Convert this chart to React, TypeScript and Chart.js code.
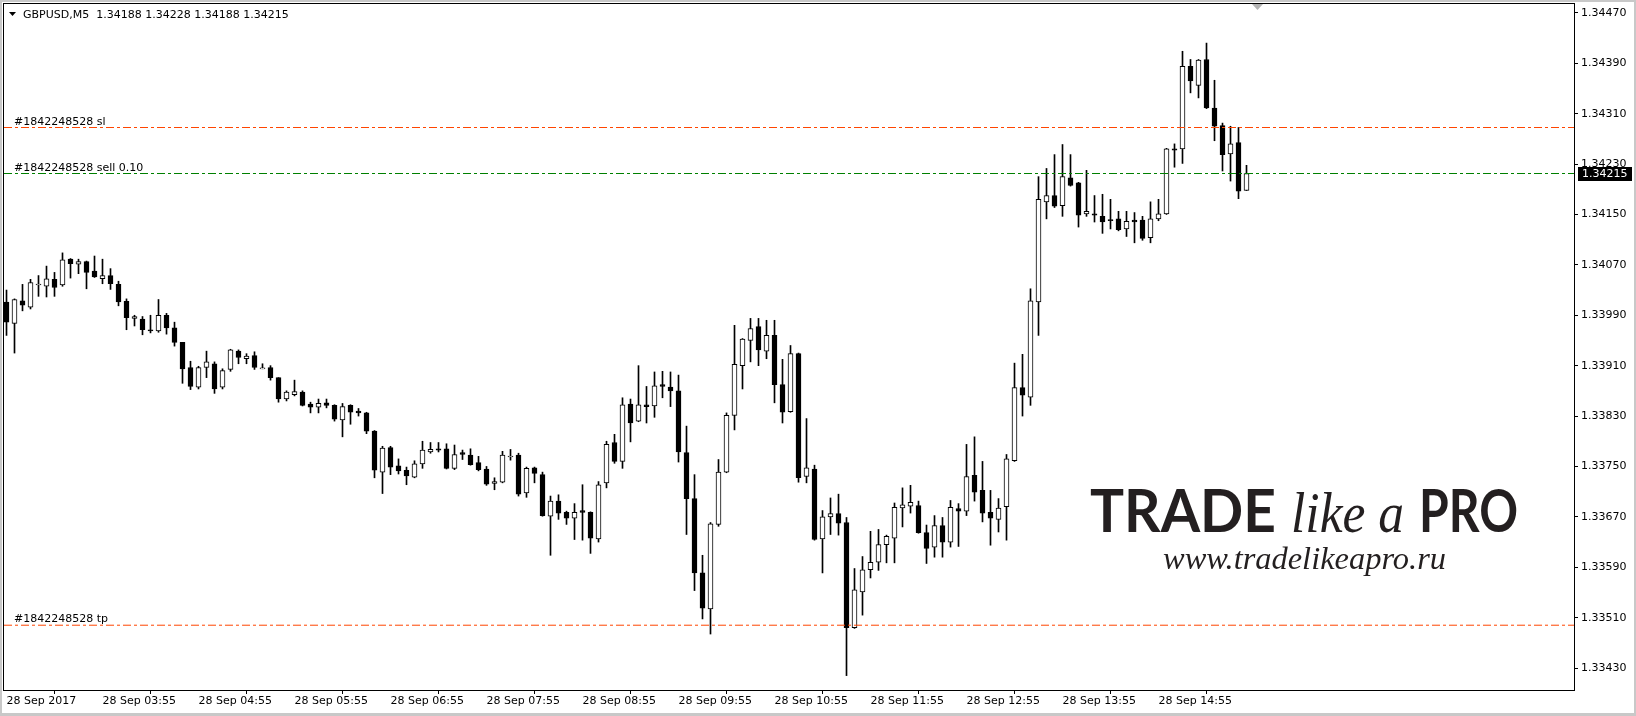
import React, { useEffect, useRef } from "react";
import { Chart, registerables } from "chart.js";

Chart.register(...registerables);

// ---- DATA (GBPUSD, M5, 28 Sep 2017, 02:55 .. 15:50) ----
const opens = [
  1.34011, 1.33977, 1.34013, 1.34003, 1.34038, 1.34036, 1.34047, 1.34038, 1.34079, 1.34071,
  1.34075, 1.3406, 1.34048, 1.34053, 1.34039, 1.34012, 1.33985, 1.33984, 1.33967, 1.33965,
  1.3399, 1.3397, 1.33947, 1.33907, 1.33876, 1.33907, 1.33913, 1.33876, 1.33904, 1.33933,
  1.33921, 1.33926, 1.33905, 1.33907, 1.33891, 1.33857, 1.33864, 1.33868, 1.33849, 1.33844,
  1.33851, 1.33847, 1.33824, 1.33847, 1.33838, 1.33835, 1.33806, 1.33741, 1.3378, 1.33751,
  1.33744, 1.33733, 1.33754, 1.33773, 1.33778, 1.33778, 1.33747, 1.33772, 1.33768, 1.33756,
  1.33746, 1.33723, 1.33725, 1.33765, 1.33768, 1.33708, 1.33748, 1.33737, 1.33671, 1.33695,
  1.33677, 1.33668, 1.3368, 1.33677, 1.33635, 1.33724, 1.33788, 1.33758, 1.33849, 1.33822,
  1.33848, 1.33846, 1.3388, 1.33876, 1.3387, 1.33772, 1.33699, 1.33581, 1.33524, 1.33658,
  1.33741, 1.33831, 1.3391, 1.3395, 1.33972, 1.33933, 1.33958, 1.3388, 1.33837, 1.33929,
  1.33734, 1.33746, 1.33635, 1.3367, 1.33675, 1.33661, 1.33494, 1.33551, 1.33586, 1.33598,
  1.33626, 1.33636, 1.33684, 1.33687, 1.33688, 1.33645, 1.33622, 1.33656, 1.3363, 1.33683,
  1.33679, 1.33736, 1.33712, 1.33677, 1.33666, 1.33686, 1.33759, 1.33875, 1.3386, 1.34011,
  1.3417, 1.3418, 1.34164, 1.34208, 1.342, 1.34151, 1.34151, 1.34147, 1.34142, 1.34143,
  1.34127, 1.34141, 1.34141, 1.34113, 1.34143, 1.34151, 1.34254, 1.34254, 1.34385, 1.34355,
  1.34396, 1.34319, 1.34291, 1.34246, 1.34264, 1.34188,
];
const highs = [
  1.3403, 1.34016, 1.34039, 1.34047, 1.34053, 1.34068, 1.34058, 1.34089, 1.3408, 1.34079,
  1.34076, 1.34084, 1.34079, 1.34064, 1.34044, 1.34016, 1.3399, 1.33988, 1.3399, 1.34015,
  1.33993, 1.33979, 1.33947, 1.33917, 1.33909, 1.33933, 1.33916, 1.33905, 1.33936, 1.33935,
  1.33929, 1.33932, 1.33913, 1.3391, 1.33891, 1.3387, 1.33887, 1.3387, 1.33852, 1.33857,
  1.33857, 1.33848, 1.3385, 1.33848, 1.33842, 1.33836, 1.33807, 1.33782, 1.33782, 1.33762,
  1.33749, 1.33759, 1.3379, 1.33788, 1.33788, 1.33786, 1.33784, 1.33776, 1.33778, 1.33766,
  1.3375, 1.33732, 1.33774, 1.33777, 1.33771, 1.33749, 1.33749, 1.33741, 1.33703, 1.33705,
  1.33679, 1.33691, 1.33721, 1.33678, 1.33726, 1.3379, 1.33801, 1.33859, 1.33857, 1.3391,
  1.33877, 1.339, 1.33901, 1.339, 1.33895, 1.33814, 1.33737, 1.33609, 1.33661, 1.33761,
  1.33835, 1.33974, 1.33953, 1.33985, 1.33985, 1.33982, 1.33982, 1.3392, 1.33942, 1.3393,
  1.33826, 1.33752, 1.3368, 1.337, 1.33706, 1.33669, 1.33588, 1.33607, 1.33647, 1.3365,
  1.33641, 1.33692, 1.33716, 1.3372, 1.33695, 1.33657, 1.33672, 1.33669, 1.33696, 1.33691,
  1.33785, 1.33797, 1.33758, 1.33712, 1.33699, 1.33769, 1.33914, 1.33928, 1.34032, 1.3421,
  1.34223, 1.34245, 1.34261, 1.34245, 1.34201, 1.3422, 1.3418, 1.34182, 1.34174, 1.34155,
  1.34155, 1.34153, 1.34147, 1.3417, 1.34174, 1.34255, 1.34262, 1.34409, 1.34396, 1.34396,
  1.34422, 1.34363, 1.34295, 1.3429, 1.34288, 1.34228,
];
const lows = [
  1.33958, 1.3393, 1.33997, 1.34, 1.3402, 1.34019, 1.3402, 1.34036, 1.34049, 1.34056,
  1.34032, 1.3405, 1.3404, 1.34031, 1.34005, 1.33967, 1.33973, 1.33959, 1.33962, 1.33963,
  1.3396, 1.33941, 1.33882, 1.33872, 1.33873, 1.33891, 1.33866, 1.33873, 1.33901, 1.33913,
  1.33913, 1.33904, 1.33905, 1.33887, 1.33852, 1.33854, 1.33862, 1.33846, 1.33835, 1.33835,
  1.33843, 1.33822, 1.33797, 1.33817, 1.3383, 1.33802, 1.33732, 1.33707, 1.33737, 1.33738,
  1.33721, 1.33732, 1.33747, 1.33771, 1.33773, 1.33746, 1.33745, 1.33761, 1.33752, 1.33743,
  1.3372, 1.33713, 1.33724, 1.3376, 1.33703, 1.33701, 1.33724, 1.33671, 1.33609, 1.33666,
  1.33658, 1.33634, 1.33633, 1.33612, 1.3363, 1.33716, 1.33755, 1.33747, 1.33789, 1.33821,
  1.33819, 1.33828, 1.33859, 1.33845, 1.33757, 1.33642, 1.33553, 1.33508, 1.33484, 1.33655,
  1.3374, 1.33808, 1.33873, 1.33916, 1.3391, 1.33921, 1.33851, 1.33819, 1.33836, 1.33725,
  1.33724, 1.33633, 1.33581, 1.33642, 1.33641, 1.33418, 1.33493, 1.33514, 1.33573, 1.33585,
  1.33597, 1.33597, 1.33654, 1.33676, 1.33644, 1.33596, 1.33606, 1.33606, 1.33622, 1.33623,
  1.33672, 1.33695, 1.33662, 1.33625, 1.33646, 1.33633, 1.33758, 1.3383, 1.33847, 1.33958,
  1.34143, 1.34161, 1.34147, 1.34195, 1.3413, 1.34147, 1.34138, 1.3412, 1.34127, 1.34124,
  1.34115, 1.34105, 1.34109, 1.34105, 1.3414, 1.3415, 1.34225, 1.34231, 1.34343, 1.34335,
  1.34318, 1.34267, 1.34219, 1.34203, 1.34175, 1.34188,
];
const closes = [
  1.33979, 1.34015, 1.34006, 1.34042, 1.34039, 1.34048, 1.34034, 1.34078, 1.34072, 1.34075,
  1.34058, 1.34051, 1.34053, 1.3404, 1.34011, 1.33986, 1.33988, 1.33967, 1.33965, 1.3399,
  1.3397, 1.33947, 1.33905, 1.33877, 1.33907, 1.33916, 1.33873, 1.33902, 1.33935, 1.33923,
  1.33925, 1.33907, 1.33905, 1.33891, 1.33857, 1.33868, 1.33869, 1.33847, 1.33844, 1.3385,
  1.33847, 1.33825, 1.33845, 1.33836, 1.33835, 1.33806, 1.33744, 1.33779, 1.33749, 1.33743,
  1.33735, 1.33754, 1.33776, 1.33777, 1.33776, 1.33747, 1.33769, 1.33769, 1.33753, 1.33745,
  1.33722, 1.33726, 1.33768, 1.33766, 1.33706, 1.33747, 1.33739, 1.33672, 1.33695, 1.33676,
  1.33668, 1.33677, 1.33677, 1.33636, 1.33721, 1.33785, 1.33758, 1.33848, 1.33819, 1.33848,
  1.33845, 1.33878, 1.33877, 1.3387, 1.33773, 1.33699, 1.33581, 1.33525, 1.33659, 1.33741,
  1.33831, 1.33912, 1.33952, 1.33969, 1.33935, 1.33958, 1.3388, 1.33836, 1.33929, 1.33732,
  1.33748, 1.33634, 1.3367, 1.33675, 1.3366, 1.33494, 1.33554, 1.33586, 1.33598, 1.33626,
  1.33639, 1.33685, 1.33689, 1.33693, 1.33645, 1.3362, 1.33656, 1.3363, 1.33685, 1.33679,
  1.33734, 1.33709, 1.33676, 1.33668, 1.33684, 1.33762, 1.33875, 1.33863, 1.34013, 1.34174,
  1.3418, 1.34163, 1.3421, 1.34196, 1.34149, 1.34155, 1.34149, 1.34138, 1.3414, 1.34126,
  1.34139, 1.34138, 1.34112, 1.34143, 1.34151, 1.34254, 1.34252, 1.34385, 1.34362, 1.34395,
  1.34319, 1.3429, 1.34245, 1.34262, 1.34187, 1.34215,
];

const timeLabels = [
  "28 Sep 2017", "28 Sep 03:55", "28 Sep 04:55", "28 Sep 05:55", "28 Sep 06:55",
  "28 Sep 07:55", "28 Sep 08:55", "28 Sep 09:55", "28 Sep 10:55", "28 Sep 11:55",
  "28 Sep 12:55", "28 Sep 13:55", "28 Sep 14:55",
];
const barsPerLabel = 12;

const priceTicks = [
  1.3343, 1.3351, 1.3359, 1.3367, 1.3375, 1.3383, 1.3391,
  1.3399, 1.3407, 1.3415, 1.3423, 1.3431, 1.3439, 1.3447,
];

const symbolTitle = "GBPUSD,M5";
const orderLabels = ["#1842248528 sl", "#1842248528 sell 0.10", "#1842248528 tp"];
const orderPrices = [1.34288, 1.34215, 1.33498];
const bidPrice = 1.34215;
const brandWords = ["TRADE", "like a", "PRO"];
const siteUrl = "www.tradelikeapro.ru";

// ---- LAYOUT / STYLE ----
const W = 1636;
const H = 716;
const AREA_LEFT = 4;
const AREA_TOP = 4;
const AREA_RIGHT = 1574;
const AREA_BOTTOM = 690;
const PX_PER_BAR = 8;
const FIRST_BAR_X = 6.5;
const X_MIN = -(FIRST_BAR_X - AREA_LEFT) / PX_PER_BAR;
const X_MAX = X_MIN + (AREA_RIGHT - AREA_LEFT) / PX_PER_BAR;
const Y_MAX = 1.3448405;
const Y_MIN = 1.3339516;
const FONT = "DejaVu Sans";
const orderColors = ["#ff4500", "#008000", "#ff4500"];

function fmt(v: number) {
  return v.toFixed(5);
}

function drawFit(ctx: CanvasRenderingContext2D, text: string, x: number, y: number, width: number, font: string) {
  ctx.save();
  ctx.font = font;
  const m = ctx.measureText(text).width || 1;
  ctx.translate(x, y);
  ctx.scale(width / m, 1);
  ctx.fillText(text, 0, 0);
  ctx.restore();
}

const overlayPlugin = {
  id: "mtOverlay",
  beforeDatasetsDraw(chart: any) {
    const ctx: CanvasRenderingContext2D = chart.ctx;
    ctx.save();
    ctx.fillStyle = "#231f20";
    ctx.textAlign = "left";
    ctx.textBaseline = "alphabetic";
    drawFit(ctx, brandWords[0], 1090, 532, 186, "bold 60px Lato");
    drawFit(ctx, brandWords[1], 1291, 532, 113, 'italic 56px "Liberation Serif"');
    drawFit(ctx, brandWords[2], 1419, 532, 99, "bold 60px Lato");
    drawFit(ctx, siteUrl, 1163, 569, 283, 'italic 31px "Liberation Serif"');
    ctx.restore();
  },
  afterDatasetsDraw(chart: any) {
    const ctx: CanvasRenderingContext2D = chart.ctx;
    const yScale = chart.scales.y;
    ctx.save();
    // frame
    ctx.strokeStyle = "#000";
    ctx.lineWidth = 1;
    ctx.strokeRect(AREA_LEFT - 0.5, AREA_TOP - 0.5, AREA_RIGHT - AREA_LEFT + 1, AREA_BOTTOM - AREA_TOP + 1);

    // header
    ctx.fillStyle = "#000";
    ctx.beginPath();
    ctx.moveTo(9, 12);
    ctx.lineTo(16, 12);
    ctx.lineTo(12.5, 16);
    ctx.closePath();
    ctx.fill();
    ctx.font = `11px "${FONT}"`;
    ctx.textBaseline = "middle";
    ctx.textAlign = "left";
    const last = opens.length - 1;
    const header = `${symbolTitle}  ${fmt(opens[last])} ${fmt(highs[last])} ${fmt(lows[last])} ${fmt(closes[last])}`;
    ctx.fillText(header, 23, 15);

    // order labels
    ctx.textBaseline = "alphabetic";
    orderLabels.forEach((t, i) => {
      const py = yScale.getPixelForValue(orderPrices[i]);
      ctx.fillText(t, 14, py - 3);
    });

    // chart shift marker
    ctx.fillStyle = "#b4b4b4";
    ctx.beginPath();
    ctx.moveTo(1252, 4);
    ctx.lineTo(1263, 4);
    ctx.lineTo(1257.5, 10);
    ctx.closePath();
    ctx.fill();

    // bid price box
    const by = yScale.getPixelForValue(bidPrice);
    ctx.fillStyle = "#000";
    ctx.fillRect(1578, Math.round(by) - 7, 54, 14);
    ctx.fillStyle = "#fff";
    ctx.textBaseline = "middle";
    ctx.fillText(fmt(bidPrice), 1582, Math.round(by));

    // window border
    ctx.fillStyle = "#c8c8c8";
    ctx.fillRect(0, 0, W, 2);
    ctx.fillRect(0, 0, 2, H);
    ctx.fillRect(0, H - 3, W, 3);
    ctx.fillRect(W - 2, 0, 2, H);
    ctx.restore();
  },
};

export default function App() {
  const canvasRef = useRef<HTMLCanvasElement | null>(null);

  useEffect(() => {
    document.body.style.margin = "0";
    const canvas = canvasRef.current;
    if (!canvas) return;
    Chart.defaults.font.family = FONT;

    const bodies = opens.map((o, i) => ({ x: i, y: [Math.min(o, closes[i]), Math.max(o, closes[i])] }));
    const wicks = highs.map((h, i) => ({ x: i, y: [lows[i], h] }));
    const bodyColors = opens.map((o, i) => (closes[i] >= o ? "#ffffff" : "#000000"));

    const lineSets = orderPrices.map((p, i) => ({
      type: "line" as const,
      label: orderLabels[i],
      data: [
        { x: X_MIN, y: p },
        { x: X_MAX, y: p },
      ],
      borderColor: orderColors[i],
      borderWidth: 1,
      borderDash: [8, 3, 3, 3],
      pointRadius: 0,
      fill: false,
      order: -1,
    }));

    const chart = new Chart(canvas, {
      type: "bar",
      data: {
        datasets: [
          ...lineSets,
          {
            type: "bar",
            label: "body",
            data: bodies as any,
            backgroundColor: bodyColors,
            borderColor: "#000000",
            borderWidth: 1,
            borderSkipped: false,
            barThickness: 5,
            minBarLength: 1,
            grouped: false,
            order: 0,
          } as any,
          {
            type: "bar",
            label: "wick",
            data: wicks as any,
            backgroundColor: "#000000",
            borderWidth: 0,
            barThickness: 1,
            minBarLength: 1,
            grouped: false,
            order: 1,
          } as any,
        ],
      },
      options: {
        animation: false,
        responsive: false,
        devicePixelRatio: 1,
        layout: { padding: { left: AREA_LEFT, top: AREA_TOP, right: 0, bottom: 0 } },
        plugins: { legend: { display: false }, tooltip: { enabled: false } },
        scales: {
          x: {
            type: "linear",
            min: X_MIN,
            max: X_MAX,
            offset: false,
            border: { display: false },
            grid: { drawOnChartArea: false, drawTicks: true, tickLength: 4, color: "#000000" },
            ticks: {
              autoSkip: false,
              maxRotation: 0,
              minRotation: 0,
              align: "start",
              padding: 1,
              color: "#000000",
              font: { family: FONT, size: 11 },
              callback: (_v: any, idx: number) => timeLabels[idx],
            },
            afterBuildTicks: (s: any) => {
              s.ticks = timeLabels.map((_, i) => ({ value: i * barsPerLabel }));
            },
            afterFit: (s: any) => {
              s.height = H - AREA_BOTTOM;
              s.paddingLeft = 0;
              s.paddingRight = 0;
            },
          },
          y: {
            type: "linear",
            position: "right",
            min: Y_MIN,
            max: Y_MAX,
            border: { display: false },
            grid: { drawOnChartArea: false, drawTicks: true, tickLength: 4, color: "#000000" },
            ticks: {
              padding: 3,
              color: "#000000",
              font: { family: FONT, size: 11 },
              callback: (v: any) => Number(v).toFixed(5),
            },
            afterBuildTicks: (s: any) => {
              s.ticks = priceTicks.map((v) => ({ value: v }));
            },
            afterFit: (s: any) => {
              s.width = W - AREA_RIGHT;
              s.paddingTop = 0;
              s.paddingBottom = 0;
            },
          },
        },
      } as any,
      plugins: [overlayPlugin],
    });

    return () => chart.destroy();
  }, []);

  return (
    <div style={{ width: W, height: H, position: "relative", background: "#ffffff" }}>
      <canvas ref={canvasRef} width={W} height={H} style={{ display: "block", width: W, height: H }} />
    </div>
  );
}
